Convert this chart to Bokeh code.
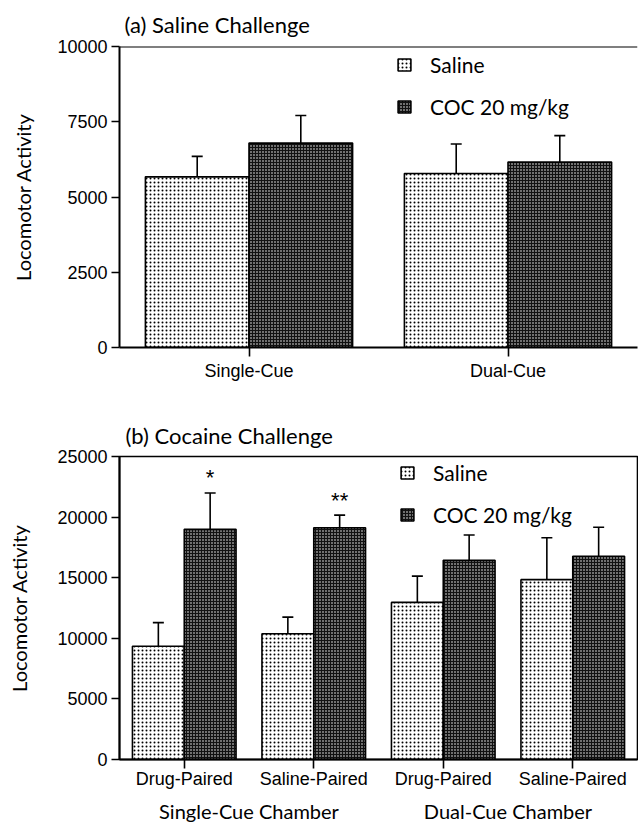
import numpy as np
from bokeh.plotting import figure
from bokeh.models import (Range1d, ColumnDataSource, Whisker, TeeHead, Legend, LegendItem,
                          Span, FixedTicker, LinearAxis)
from bokeh.layouts import column
from bokeh.embed import file_html
from bokeh.resources import INLINE
from bokeh.core.properties import value

# ---------------- data ----------------
series_labels = ["Saline", "COC 20 mg/kg"]
y_label = "Locomotor Activity"

# (a) Saline Challenge
a_title = "(a) Saline Challenge"
a_categories = ["Single-Cue", "Dual-Cue"]
a_saline = [5670, 5780]
a_saline_sem = [680, 980]
a_coc = [6790, 6160]
a_coc_sem = [920, 880]
a_yticks = [0, 2500, 5000, 7500, 10000]

# (b) Cocaine Challenge
b_title = "(b) Cocaine Challenge"
b_chambers = ["Single-Cue Chamber", "Single-Cue Chamber", "Dual-Cue Chamber", "Dual-Cue Chamber"]
b_sides = ["Drug-Paired", "Saline-Paired", "Drug-Paired", "Saline-Paired"]
b_saline = [9350, 10370, 12960, 14840]
b_saline_sem = [1940, 1380, 2170, 3460]
b_coc = [18990, 19120, 16430, 16770]
b_coc_sem = [3000, 1040, 2090, 2390]
b_sig = ["*", "**", "", ""]
b_yticks = [0, 5000, 10000, 15000, 20000, 25000]

HUM = "Lato"
HEL = "Liberation Sans"


def make_panel(cats, saline, saline_sem, coc, coc_sem, yticks, title,
               width, height, b_left, b_top, b_bottom, b_right,
               legend_xy, ylab_standoff, xlab_standoff, title_standoff, title_offset,
               full_outline, sig=None, groups=None, group_standoff=7):
    n = len(cats)
    centers = np.arange(n) + 0.5
    p = figure(x_range=Range1d(0, n), y_range=Range1d(yticks[0], yticks[-1]),
               width=width, height=height, output_backend="svg", toolbar_location=None,
               min_border_left=b_left, min_border_top=b_top,
               min_border_bottom=b_bottom, min_border_right=b_right)
    p.grid.visible = False
    p.background_fill_color = "white"
    p.border_fill_color = "white"

    src = ColumnDataSource(dict(
        xs=centers - 0.2, xc=centers + 0.2,
        saline=saline, saline_top=np.array(saline) + np.array(saline_sem),
        coc=coc, coc_top=np.array(coc) + np.array(coc_sem),
        sig=sig if sig is not None else [""] * n,
    ))

    r_sal = p.vbar(x="xs", top="saline", bottom=0, width=0.4, source=src,
                   fill_color="white", line_color="black", line_width=1.6,
                   hatch_pattern="dot", hatch_color="black", hatch_scale=4, hatch_weight=0.7)
    r_coc = p.vbar(x="xc", top="coc", bottom=0, width=0.4, source=src,
                   fill_color="#111111", line_color="black", line_width=1.6,
                   hatch_pattern="dot", hatch_color="white", hatch_scale=3, hatch_weight=0.45)

    for xcol, lo, hi in (("xs", "saline", "saline_top"), ("xc", "coc", "coc_top")):
        p.add_layout(Whisker(base=xcol, lower=lo, upper=hi, source=src,
                             line_color="black", line_width=1.6,
                             upper_head=TeeHead(size=11, line_width=1.6, line_color="black"),
                             lower_head=None))

    if sig is not None:
        p.text(x="xc", y="coc_top", text="sig", source=src,
               text_font=value(HEL), text_font_size="22px", text_align="center",
               text_baseline="alphabetic", y_offset=-15, text_color="black")

    # y axis
    ya = p.yaxis[0]
    ya.ticker = FixedTicker(ticks=yticks)
    ya.minor_tick_line_color = None
    ya.major_tick_out = 8
    ya.major_tick_in = 0
    ya.major_tick_line_width = 1.6
    ya.axis_line_width = 2
    ya.major_label_text_font = HEL
    ya.major_label_text_font_size = "18px"
    ya.major_label_text_color = "black"
    ya.major_label_standoff = 4
    ya.axis_label = y_label
    ya.axis_label_text_font = HUM
    ya.axis_label_text_font_size = "20px"
    ya.axis_label_text_font_style = "normal"
    ya.axis_label_text_color = "black"
    ya.axis_label_standoff = ylab_standoff

    # x axis (categories)
    xa = p.xaxis[0]
    xa.ticker = FixedTicker(ticks=list(centers))
    xa.major_label_overrides = {float(c): lab for c, lab in zip(centers, cats)}
    xa.minor_tick_line_color = None
    xa.major_tick_out = 9
    xa.major_tick_in = 0
    xa.major_tick_line_width = 1.6
    xa.axis_line_width = 2
    xa.major_label_text_font = HEL
    xa.major_label_text_font_size = "18px"
    xa.major_label_text_color = "black"
    xa.major_label_standoff = xlab_standoff

    # second row of x labels (chamber groups)
    if groups is not None:
        gnames = list(dict.fromkeys(groups))
        gcent = [float(np.mean([c for c, g in zip(centers, groups) if g == name])) for name in gnames]
        ga = LinearAxis(ticker=FixedTicker(ticks=gcent),
                        major_label_overrides={c: name for c, name in zip(gcent, gnames)},
                        axis_line_color=None, major_tick_line_color=None,
                        minor_tick_line_color=None, major_tick_out=0, minor_tick_out=0,
                        major_label_standoff=group_standoff,
                        major_label_text_font=HUM, major_label_text_font_size="20px",
                        major_label_text_color="black")
        p.add_layout(ga, "below")

    if full_outline:
        p.outline_line_color = "black"
        p.outline_line_width = 1.6
    else:
        p.outline_line_color = None
        p.add_layout(Span(location=yticks[-1], dimension="width", line_color="black", line_width=2))

    legend = Legend(items=[LegendItem(label=series_labels[0], renderers=[r_sal]),
                           LegendItem(label=series_labels[1], renderers=[r_coc])],
                    location=legend_xy, orientation="vertical",
                    padding=0, margin=0, spacing=17, label_standoff=18,
                    glyph_width=16, glyph_height=15, label_height=20,
                    label_text_font=HUM, label_text_font_size="21px", label_text_color="black",
                    border_line_color=None, background_fill_alpha=0)
    p.add_layout(legend)

    p.title.text = title
    p.title.align = "left"
    p.title.offset = title_offset
    p.title.standoff = title_standoff
    p.title.text_font = HUM
    p.title.text_font_size = "22px"
    p.title.text_font_style = "normal"
    p.title.text_color = "black"
    return p


p1 = make_panel(a_categories, a_saline, a_saline_sem, a_coc, a_coc_sem, a_yticks, a_title,
                width=638, height=412, b_left=119, b_top=45, b_bottom=65, b_right=0,
                legend_xy=(277, 228), ylab_standoff=19, xlab_standoff=4,
                title_standoff=17, title_offset=5, full_outline=False)
p2 = make_panel(b_sides, b_saline, b_saline_sem, b_coc, b_coc_sem, b_yticks, b_title,
                width=638, height=413, b_left=117, b_top=43, b_bottom=66, b_right=1,
                legend_xy=(280, 232), ylab_standoff=23, xlab_standoff=0,
                title_standoff=15, title_offset=6, full_outline=True, sig=b_sig,
                groups=b_chambers, group_standoff=7)

layout = column(p1, p2, spacing=0)
open("out.html", "w").write(file_html(layout, INLINE))
